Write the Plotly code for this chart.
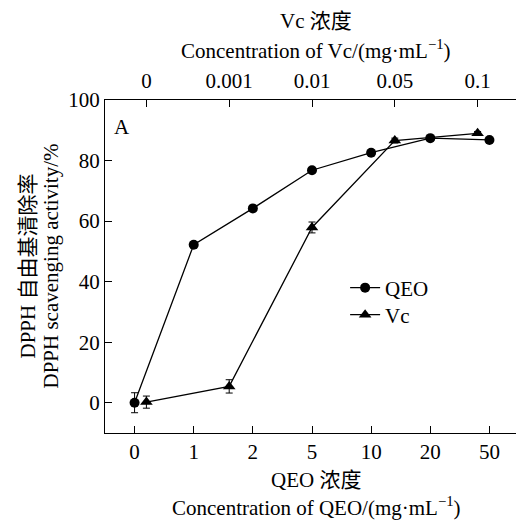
import plotly.graph_objects as go

# Data
qeo_labels = ["0", "1", "2", "5", "10", "20", "50"]
qeo_values = [0.0, 52.2, 64.2, 76.8, 82.6, 87.4, 86.8]
qeo_err = [3.3, 1.0, 0.8, 0.8, 0.8, 0.6, 0.6]

vc_labels = ["0", "0.001", "0.01", "0.05", "0.1"]
vc_values = [0.2, 5.4, 57.9, 86.6, 89.0]
vc_err = [2.0, 2.2, 1.8, 0.8, 0.6]

y_ticks = [0, 20, 40, 60, 80, 100]

FONT = "Liberation Serif, Noto Sans CJK SC"
FS = 21

fig = go.Figure()
fig.add_trace(go.Scatter(
    x=list(range(len(qeo_labels))), y=qeo_values, name="QEO",
    mode="lines+markers",
    line=dict(color="black", width=1.3),
    marker=dict(symbol="circle", size=10, color="black"),
    error_y=dict(type="data", array=qeo_err, color="black", thickness=1, width=3.5),
    xaxis="x", yaxis="y", legend="legend",
))
fig.add_trace(go.Scatter(
    x=list(range(len(vc_labels))), y=vc_values, name="Vc",
    mode="lines+markers",
    line=dict(color="black", width=1.3),
    marker=dict(symbol="triangle-up", size=11, color="black"),
    error_y=dict(type="data", array=vc_err, color="black", thickness=1, width=3.5),
    xaxis="x2", yaxis="y", legend="legend2",
))

axis_common = dict(showline=True, linecolor="black", linewidth=1, ticks="inside",
                   ticklen=7, tickcolor="black", tickwidth=1, showgrid=False,
                   zeroline=False, tickfont=dict(family=FONT, size=FS, color="black"))

legend_common = dict(xanchor="left", yanchor="middle", bgcolor="rgba(0,0,0,0)",
                     font=dict(family=FONT, size=FS, color="black"), itemwidth=30)

# The page body has an 8px margin, so the figure is drawn 8px smaller
fig.update_layout(
    width=516, height=512,
    margin=dict(l=97, r=5, t=92, b=87),
    paper_bgcolor="white", plot_bgcolor="white",
    font=dict(family=FONT, size=FS, color="black"),
    xaxis=dict(range=[-0.5, len(qeo_labels) - 0.5],
               tickvals=list(range(len(qeo_labels))), ticktext=qeo_labels,
               **axis_common),
    xaxis2=dict(range=[-0.5, len(vc_labels) - 0.5], overlaying="x", side="top",
                tickvals=list(range(len(vc_labels))), ticktext=vc_labels,
                ticklabelstandoff=3, **axis_common),
    yaxis=dict(range=[-10, 100], tickvals=y_ticks, mirror=True, **axis_common),
    legend=dict(x=0.58, y=(433 - 288) / 333, **legend_common),
    legend2=dict(x=0.58, y=(433 - 315) / 333, **legend_common),
    showlegend=True,
)

ann = [
    dict(text="Vc 浓度", x=0.51, y=(433 - 21) / 333),
    dict(text="Concentration of Vc/(mg·mL<sup>−1</sup>)", x=0.51, y=(433 - 49) / 333),
    dict(text="QEO 浓度", x=0.51, y=(433 - 480) / 333),
    dict(text="Concentration of QEO/(mg·mL<sup>−1</sup>)", x=0.51, y=(433 - 506) / 333),
]
for a in ann:
    fig.add_annotation(xref="paper", yref="paper", showarrow=False,
                       xanchor="center", yanchor="middle",
                       font=dict(family=FONT, size=FS, color="black"), **a)

fig.add_annotation(text="DPPH 自由基清除率", xref="paper", yref="paper",
                   x=(27 - 105) / 414, y=0.5, textangle=-90, showarrow=False,
                   xanchor="center", yanchor="middle",
                   font=dict(family=FONT, size=FS, color="black"))
fig.add_annotation(text="DPPH scavenging activity/%", xref="paper", yref="paper",
                   x=(50 - 105) / 414, y=0.5, textangle=-90, showarrow=False,
                   xanchor="center", yanchor="middle",
                   font=dict(family=FONT, size=FS, color="black"))
fig.add_annotation(text="A", xref="paper", yref="paper",
                   x=(122 - 105) / 414, y=(433 - 127) / 333, showarrow=False,
                   xanchor="center", yanchor="middle",
                   font=dict(family=FONT, size=FS, color="black"))

fig.write_html("out.html")
